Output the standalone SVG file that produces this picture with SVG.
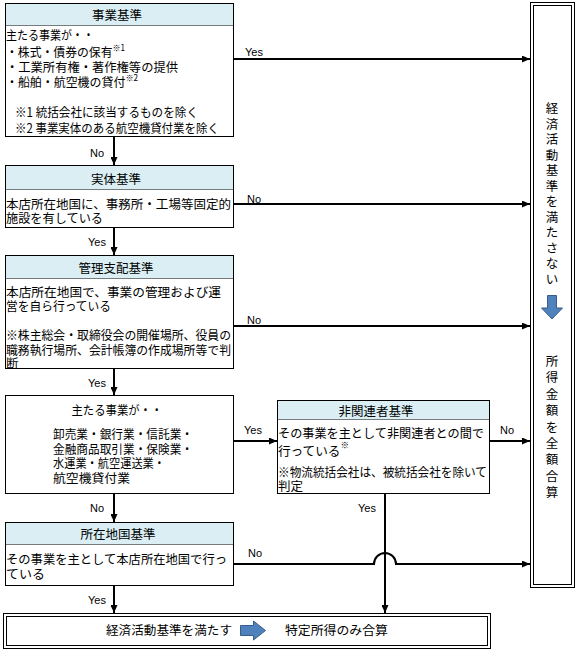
<svg xmlns="http://www.w3.org/2000/svg" width="582" height="656" viewBox="0 0 582 656">
<style>
.bg{fill:#fff}
.hdr{fill:#DAEEF3}
.bd{fill:none;stroke:#000;stroke-width:1}
.sep{stroke:#000;stroke-width:1;stroke-dasharray:1 1}
.t{font-family:'Noto Sans CJK JP','Noto Sans CJK SC',sans-serif;font-size:12.5px;fill:#000;dominant-baseline:central}
.c{text-anchor:middle}
.sup{font-size:8.5px}
.lbl{font-family:'Liberation Sans',Arial,sans-serif;font-size:11px;fill:#000;dominant-baseline:central}
.conn{stroke:#000;stroke-width:2;fill:none;marker-end:url(#ah)}
.blue{fill:#4F81BD;stroke:#385D8A;stroke-width:1}
</style>
<defs>
<marker id="ah" markerUnits="userSpaceOnUse" markerWidth="8" markerHeight="7" refX="8" refY="3.5" orient="auto">
<path d="M0,0 L8,3.5 L0,7 z" fill="#000"/>
</marker>
</defs>
<rect width="582" height="656" fill="#fff"/>

<g id="connectors">
<path class="conn" d="M233,59 H530"/>
<path class="conn" d="M114,136 V165"/>
<path class="conn" d="M233,204 H530"/>
<path class="conn" d="M114,227 V255"/>
<path class="conn" d="M233,326 H530"/>
<path class="conn" d="M114,368 V395"/>
<path class="conn" d="M233,441 H277"/>
<path class="conn" d="M489,441 H530"/>
<path class="conn" d="M114,493 V522"/>
<path class="conn" d="M385,493 V613"/>
<path class="conn" d="M233,564 H374 A11,11 0 0 1 396,564 H530"/>
<path class="conn" d="M114,585 V613"/>
<text class="lbl" x="245" y="52">Yes</text>
<text class="lbl" x="90" y="153">No</text>
<text class="lbl" x="247" y="199">No</text>
<text class="lbl" x="88" y="242">Yes</text>
<text class="lbl" x="247" y="320">No</text>
<text class="lbl" x="88" y="383">Yes</text>
<text class="lbl" x="244" y="430">Yes</text>
<text class="lbl" x="500" y="430">No</text>
<text class="lbl" x="90" y="508">No</text>
<text class="lbl" x="358" y="508">Yes</text>
<text class="lbl" x="248" y="553">No</text>
<text class="lbl" x="88" y="600">Yes</text>
</g>

<g id="business">
<rect class="bg" x="5.5" y="3.5" width="228" height="133"/>
<rect class="hdr" x="5.5" y="3.5" width="228" height="22"/>
<line class="sep" x1="5.5" y1="25.5" x2="233.5" y2="25.5"/>
<rect class="bd" x="5.5" y="3.5" width="228" height="133"/>
<text class="t c" x="117" y="14.5">事業基準</text>
<text class="t" x="6" y="34" textLength="88" lengthAdjust="spacingAndGlyphs">主たる事業が・・</text>
<text class="t" x="6" y="51" textLength="119" lengthAdjust="spacingAndGlyphs">・株式・債券の保有<tspan class="sup" dy="-4">※1</tspan></text>
<text class="t" x="6" y="66" textLength="172" lengthAdjust="spacingAndGlyphs">・工業所有権・著作権等の提供</text>
<text class="t" x="6" y="81" textLength="132" lengthAdjust="spacingAndGlyphs">・船舶・航空機の貸付<tspan class="sup" dy="-4">※2</tspan></text>
<text class="t" x="15" y="111" textLength="183" lengthAdjust="spacingAndGlyphs">※1 統括会社に該当するものを除く</text>
<text class="t" x="15" y="127" textLength="204" lengthAdjust="spacingAndGlyphs">※2 事業実体のある航空機貸付業を除く</text>
</g>

<g id="substance">
<rect class="bg" x="5.5" y="165.5" width="228" height="62"/>
<rect class="hdr" x="5.5" y="165.5" width="228" height="24"/>
<line class="sep" x1="5.5" y1="189.5" x2="233.5" y2="189.5"/>
<rect class="bd" x="5.5" y="165.5" width="228" height="62"/>
<text class="t c" x="116" y="178">実体基準</text>
<text class="t" x="6" y="203" textLength="225" lengthAdjust="spacingAndGlyphs">本店所在地国に、事務所・工場等固定的</text>
<text class="t" x="6" y="217" textLength="97" lengthAdjust="spacingAndGlyphs">施設を有している</text>
</g>

<g id="management">
<rect class="bg" x="5.5" y="255.5" width="228" height="113"/>
<rect class="hdr" x="5.5" y="255.5" width="228" height="23"/>
<line class="sep" x1="5.5" y1="278.5" x2="233.5" y2="278.5"/>
<rect class="bd" x="5.5" y="255.5" width="228" height="113"/>
<text class="t c" x="116" y="267">管理支配基準</text>
<text class="t" x="6" y="291" textLength="215" lengthAdjust="spacingAndGlyphs">本店所在地国で、事業の管理および運</text>
<text class="t" x="6" y="305" textLength="105" lengthAdjust="spacingAndGlyphs">営を自ら行っている</text>
<text class="t" x="6" y="334" textLength="225" lengthAdjust="spacingAndGlyphs">※株主総会・取締役会の開催場所、役員の</text>
<text class="t" x="6" y="349" textLength="225" lengthAdjust="spacingAndGlyphs">職務執行場所、会計帳簿の作成場所等で判</text>
<text class="t" x="6" y="362">断</text>
</g>

<g id="main-business">
<rect class="bg" x="5.5" y="395.5" width="228" height="98"/>
<rect class="bd" x="5.5" y="395.5" width="228" height="98"/>
<text class="t c" x="117" y="409" textLength="91" lengthAdjust="spacingAndGlyphs">主たる事業が・・</text>
<text class="t" x="53" y="433" textLength="140" lengthAdjust="spacingAndGlyphs">卸売業・銀行業・信託業・</text>
<text class="t" x="53" y="448" textLength="140" lengthAdjust="spacingAndGlyphs">金融商品取引業・保険業・</text>
<text class="t" x="53" y="462" textLength="112" lengthAdjust="spacingAndGlyphs">水運業・航空運送業・</text>
<text class="t" x="53" y="477" textLength="77" lengthAdjust="spacingAndGlyphs">航空機貸付業</text>
</g>

<g id="unrelated">
<rect class="bg" x="277.5" y="400.5" width="212" height="93"/>
<rect class="hdr" x="277.5" y="400.5" width="212" height="19"/>
<line class="sep" x1="277.5" y1="419.5" x2="489.5" y2="419.5"/>
<rect class="bd" x="277.5" y="400.5" width="212" height="93"/>
<text class="t c" x="376" y="410">非関連者基準</text>
<text class="t" x="278" y="432" textLength="206" lengthAdjust="spacingAndGlyphs">その事業を主として非関連者との間で</text>
<text class="t" x="278" y="450" textLength="71" lengthAdjust="spacingAndGlyphs">行っている<tspan class="sup" dy="-6">※</tspan></text>
<text class="t" x="278" y="471" textLength="209" lengthAdjust="spacingAndGlyphs">※物流統括会社は、被統括会社を除いて</text>
<text class="t" x="278" y="485">判定</text>
</g>

<g id="location">
<rect class="bg" x="5.5" y="522.5" width="228" height="63"/>
<rect class="hdr" x="5.5" y="522.5" width="228" height="22"/>
<line class="sep" x1="5.5" y1="544.5" x2="233.5" y2="544.5"/>
<rect class="bd" x="5.5" y="522.5" width="228" height="63"/>
<text class="t c" x="118" y="533">所在地国基準</text>
<text class="t" x="6" y="558" textLength="221" lengthAdjust="spacingAndGlyphs">その事業を主として本店所在地国で行っ</text>
<text class="t" x="6" y="573" textLength="39" lengthAdjust="spacingAndGlyphs">ている</text>
</g>

<g id="satisfies">
<rect class="bg" x="3.5" y="613.5" width="487" height="35"/>
<rect class="bd" x="3.5" y="613.5" width="487" height="35"/>
<rect class="bd" x="6.5" y="616.5" width="481" height="29"/>
<text class="t" x="106" y="629" textLength="126" lengthAdjust="spacingAndGlyphs">経済活動基準を満たす</text>
<path class="blue" d="M240.5,625.5 H253.5 V621 L265.5,630.5 L253.5,640 V635.5 H240.5 z"/>
<text class="t" x="285" y="629" textLength="103" lengthAdjust="spacingAndGlyphs">特定所得のみ合算</text>
</g>

<g id="not-satisfies">
<rect class="bg" x="530.5" y="2.5" width="44" height="585"/>
<rect class="bd" x="530.5" y="2.5" width="44" height="585"/>
<rect class="bd" x="533.5" y="5.5" width="38" height="579"/>
<text class="t c" x="552">
<tspan x="552" y="107">経</tspan><tspan x="552" y="122.5">済</tspan><tspan x="552" y="138">活</tspan><tspan x="552" y="153.5">動</tspan><tspan x="552" y="169">基</tspan><tspan x="552" y="184.5">準</tspan><tspan x="552" y="200">を</tspan><tspan x="552" y="215.5">満</tspan><tspan x="552" y="231">た</tspan><tspan x="552" y="246.5">さ</tspan><tspan x="552" y="262">な</tspan><tspan x="552" y="277.5">い</tspan>
</text>
<path class="blue" d="M547.5,295.5 H556.5 V308 H562.5 L552,319 L541.5,308 H547.5 z"/>
<text class="t c" x="552">
<tspan x="552" y="360">所</tspan><tspan x="552" y="376.4">得</tspan><tspan x="552" y="392.8">金</tspan><tspan x="552" y="409.2">額</tspan><tspan x="552" y="425.6">を</tspan><tspan x="552" y="442">全</tspan><tspan x="552" y="458.4">額</tspan><tspan x="552" y="474.8">合</tspan><tspan x="552" y="491.2">算</tspan>
</text>
</g>
</svg>
